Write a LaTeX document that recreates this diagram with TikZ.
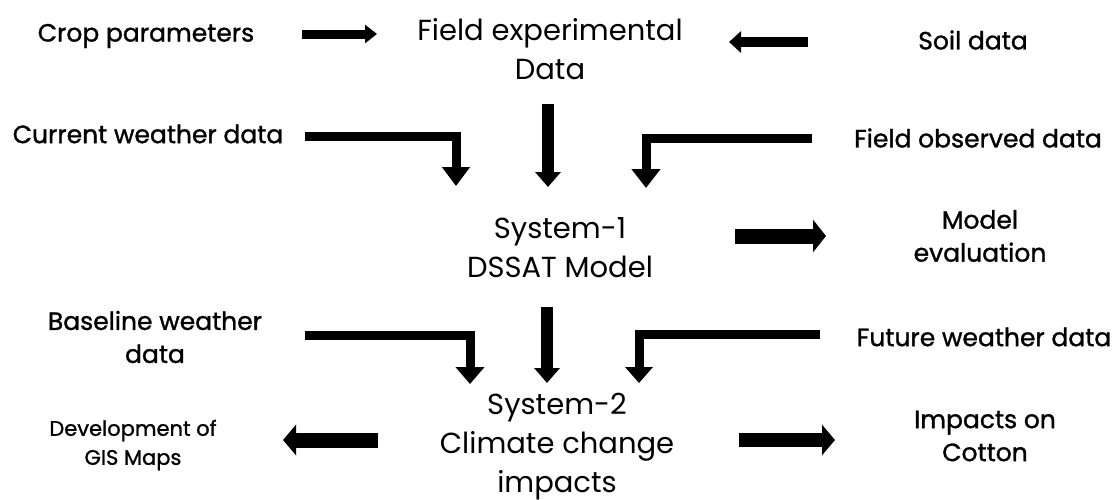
\documentclass[tikz,border=0pt]{standalone}
\usepackage{fontspec}
\setmainfont{Poppins}
\newfontfamily\lblfont[FakeBold=1.2]{Poppins}
\usetikzlibrary{arrows.meta}
\tikzset{
  lbl/.style={font=\lblfont\fontsize{25}{33}\selectfont, align=center, inner sep=0pt},
  small/.style={font=\lblfont\fontsize{21}{29}\selectfont, align=center, inner sep=0pt},
  ctr/.style={font=\fontsize{29}{39}\selectfont, align=center, inner sep=0pt},
  fat/.style n args={3}{line width=#1, line join=miter, draw=black,
    -{Triangle[width=#2, length=#3]}}
}
\begin{document}
\begin{tikzpicture}[x=1pt, y=-1pt]
\useasboundingbox (0,0) rectangle (1113,499);
% texts
\node[lbl] (crop) at (146,36) {Crop parameters};
\node[ctr] (field) at (550,49) {Field experimental\\Data};
\node[lbl] (soil) at (973,40) {Soil data};
\node[lbl] (current) at (148,134) {Current weather data};
\node[lbl] (fobs) at (978,138) {Field observed data};
\node[ctr] (sys1) at (560,248) {System-1\\DSSAT Model};
\node[lbl] (meval) at (980,236) {Model\\evaluation};
\node[lbl] (baseline) at (155,337) {Baseline weather\\data};
\node[lbl] (future) at (984,337) {Future weather data};
\node[ctr] (sys2) at (557,447) {System-2\\Climate change\\impacts};
\node[small] (gis) at (133,445) {Development of\\GIS Maps};
\node[lbl] (impacts) at (985,436) {Impacts on\\Cotton};
% connector end points
\coordinate (a1s) at (302,34);   \coordinate (a1e) at (377,34);
\coordinate (a2s) at (808,42);   \coordinate (a2e) at (729,42);
\coordinate (a3s) at (305,136.5); \coordinate (a3e) at (456,186);
\coordinate (a4s) at (548,104);  \coordinate (a4e) at (548,187);
\coordinate (a5s) at (812,138);  \coordinate (a5e) at (646,188);
\coordinate (a6s) at (735,236);  \coordinate (a6e) at (826,236);
\coordinate (a7s) at (305,335);  \coordinate (a7e) at (470,384);
\coordinate (a8s) at (547,307);  \coordinate (a8e) at (547,383);
\coordinate (a9s) at (820,334);  \coordinate (a9e) at (639,383);
\coordinate (a10s) at (378,440); \coordinate (a10e) at (283,440);
\coordinate (a11s) at (739,440); \coordinate (a11e) at (835,440);
% connectors
\draw[fat={9pt}{18pt}{12pt}] (a1s) -- (a1e);
\draw[fat={10pt}{21pt}{12pt}] (a2s) -- (a2e);
\draw[fat={9pt}{27pt}{19pt}] (a3s) -| (a3e);
\draw[fat={12pt}{25pt}{15pt}] (a4s) -- (a4e);
\draw[fat={9pt}{28pt}{19pt}] (a5s) -| (a5e);
\draw[fat={15pt}{32pt}{13pt}] (a6s) -- (a6e);
\draw[fat={9pt}{28pt}{17pt}] (a7s) -| (a7e);
\draw[fat={12pt}{25pt}{15pt}] (a8s) -- (a8e);
\draw[fat={9pt}{27pt}{16pt}] (a9s) -| (a9e);
\draw[fat={15pt}{30pt}{13pt}] (a10s) -- (a10e);
\draw[fat={14pt}{30pt}{13pt}] (a11s) -- (a11e);
\end{tikzpicture}
\end{document}
